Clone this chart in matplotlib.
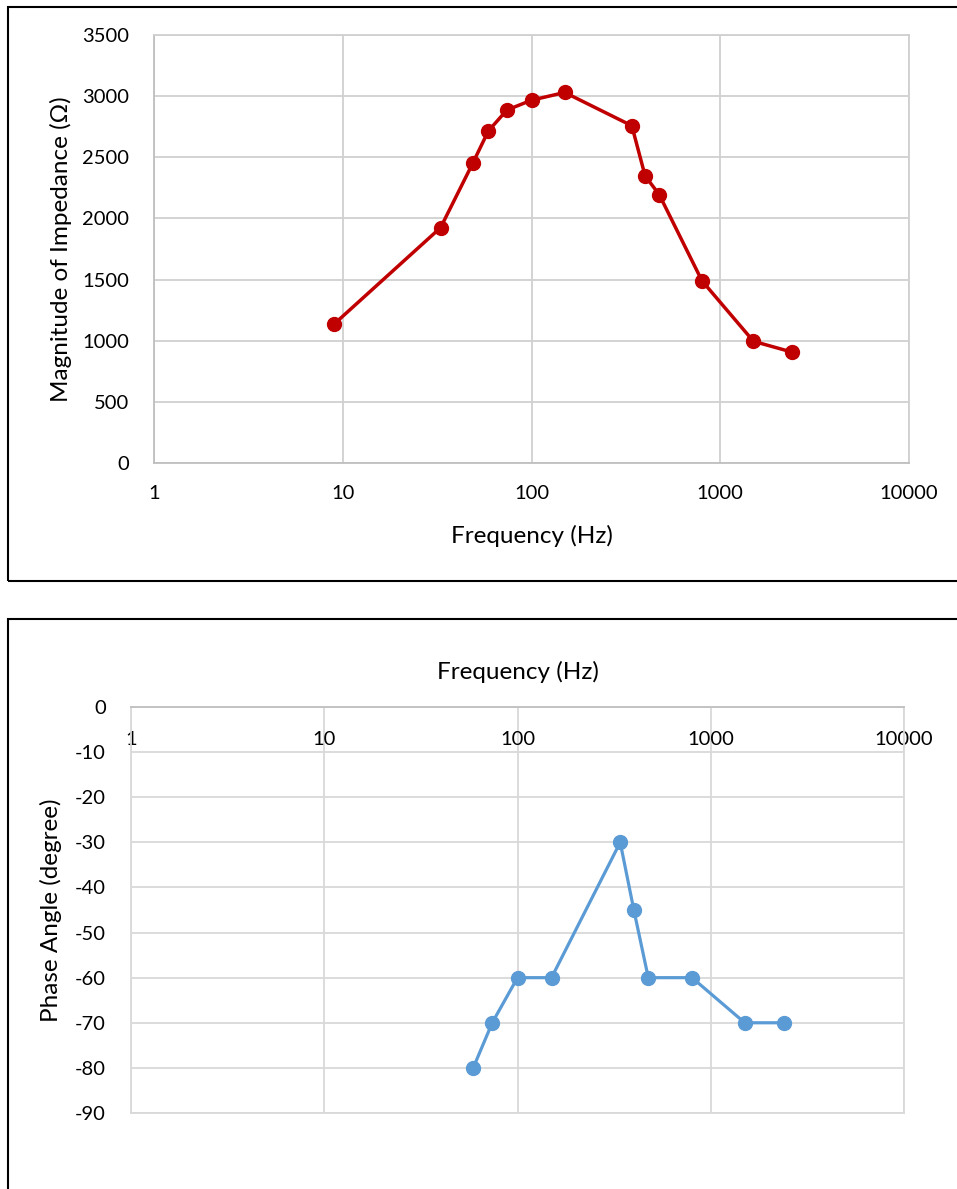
import matplotlib
matplotlib.use("Agg")
import matplotlib.pyplot as plt
from matplotlib.patches import Rectangle
from matplotlib.ticker import FixedLocator, FixedFormatter, NullLocator

plt.rcParams['font.family'] = ['Lato', 'DejaVu Sans']
plt.rcParams['axes.unicode_minus'] = False

# Impedance magnitude sweep
freq_mag = [9, 33, 49, 59, 74, 100, 150, 340, 400, 475, 800, 1500, 2400]
magnitude = [1136, 1925, 2456, 2714, 2886, 2967, 3030, 2758, 2347, 2195, 1490, 995, 907]

# Phase angle sweep
freq_phase = [59, 74, 100, 150, 340, 400, 475, 800, 1500, 2400]
phase = [-80, -70, -60, -60, -30, -45, -60, -60, -70, -70]

x_ticks = [1, 10, 100, 1000, 10000]
x_tick_labels = ['1', '10', '100', '1000', '10000']
mag_ticks = list(range(0, 3501, 500))
phase_ticks = list(range(0, -91, -10))

W, H = 957, 1189
fig = plt.figure(figsize=(W / 100, H / 100), dpi=100)

GRID = '#d0d0d0'
AXIS = '#bfbfbf'
FS = 14.5
LFS = 17.5


def fig_rect(x0, y0, x1, y1):
    return [x0 / W, 1 - y1 / H, (x1 - x0) / W, (y1 - y0) / H]


# Chart frames
fig.patches.append(Rectangle((8 / W, 1 - 581 / H), 1.2, (581 - 7) / H,
                             transform=fig.transFigure, fill=False,
                             edgecolor='black', linewidth=1.5))
fig.patches.append(Rectangle((8 / W, -0.1), 1.2, (1 - 619 / H) + 0.1,
                             transform=fig.transFigure, fill=False,
                             edgecolor='black', linewidth=1.5))

# ---- Magnitude chart ----
ax1 = fig.add_axes(fig_rect(154, 35, 909, 463))
ax1.set_xscale('log')
ax1.set_xlim(1, 10000)
ax1.set_ylim(0, 3500)
ax1.xaxis.set_major_locator(FixedLocator(x_ticks))
ax1.xaxis.set_major_formatter(FixedFormatter(x_tick_labels))
ax1.xaxis.set_minor_locator(NullLocator())
ax1.set_yticks(mag_ticks)
ax1.grid(True, color=GRID, linewidth=1.3)
for side in ['top', 'right']:
    ax1.spines[side].set_color(GRID)
    ax1.spines[side].set_linewidth(1.3)
for side in ['left', 'bottom']:
    ax1.spines[side].set_color(AXIS)
    ax1.spines[side].set_linewidth(1.3)
ax1.tick_params(length=0, labelsize=FS, pad=16)
ax1.tick_params(axis='y', pad=18)
ax1.plot(freq_mag, magnitude, color='#C00000', linewidth=2.5,
         marker='o', markersize=10, zorder=3)
ax1.set_xlabel('Frequency (Hz)', fontsize=LFS, labelpad=16)
ax1.set_ylabel('Magnitude of Impedance (Ω)', fontsize=LFS, labelpad=7)

# ---- Phase chart ----
ax2 = fig.add_axes(fig_rect(131, 707, 904, 1113))
ax2.set_xscale('log')
ax2.set_xlim(1, 10000)
ax2.set_ylim(-90, 0)
ax2.xaxis.set_major_locator(FixedLocator(x_ticks))
ax2.xaxis.set_major_formatter(FixedFormatter(x_tick_labels))
ax2.xaxis.set_minor_locator(NullLocator())
ax2.set_yticks(phase_ticks)
ax2.grid(True, color='#d9d9d9', linewidth=1.3)
for side in ['top', 'right', 'left', 'bottom']:
    ax2.spines[side].set_color('#d9d9d9')
    ax2.spines[side].set_linewidth(1.3)
ax2.spines['top'].set_color(AXIS)
ax2.tick_params(axis='x', bottom=False, top=False, labelbottom=False,
                labeltop=True, pad=-33, labelsize=FS)
ax2.tick_params(axis='y', length=0, labelsize=FS, pad=18)
ax2.plot(freq_phase, phase, color='#5B9BD5', linewidth=2.3,
         marker='o', markersize=10, zorder=3)
ax2.xaxis.set_label_position('top')
ax2.set_xlabel('Frequency (Hz)', fontsize=LFS, labelpad=20)
ax2.set_ylabel('Phase Angle (degree)', fontsize=LFS, labelpad=9)

fig.savefig('out.png', dpi=100, facecolor='white')
